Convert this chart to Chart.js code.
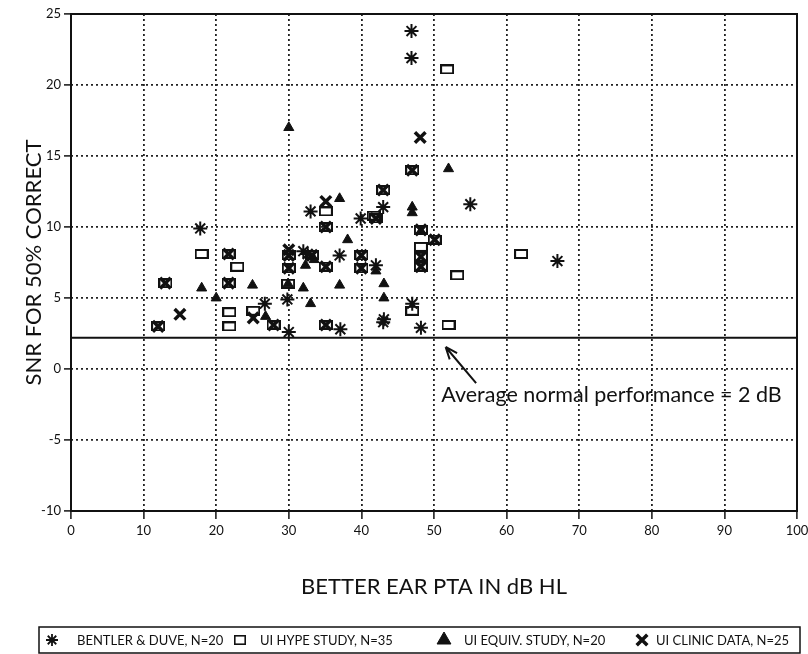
<!DOCTYPE html>
<html>
<head>
<meta charset="utf-8">
<script src="https://cdn.jsdelivr.net/npm/chart.js@4.4.1/dist/chart.umd.min.js"></script>
<style>
  html, body { margin: 0; padding: 0; background: #fff; }
  canvas { display: block; }
</style>
</head>
<body>
<canvas id="snrChart" width="808" height="654"></canvas>
<script>
// values (x = better ear PTA, y = SNR for 50% correct)
const bentlerX = [17.8, 26.7, 29.8, 30.0, 32.0, 32.6, 33.0, 37.0, 37.1, 39.9, 42.0, 43.0, 43.0, 43.1, 46.9, 46.9, 47.0, 48.2, 55.0, 67.0];
const bentlerY = [9.9, 4.6, 4.9, 2.6, 8.3, 8.1, 11.1, 8.0, 2.8, 10.6, 7.3, 11.4, 3.3, 3.5, 23.8, 21.9, 4.6, 2.9, 11.6, 7.6];

const hypeX = [12.0, 13.0, 18.0, 21.7, 21.7, 21.8, 21.8, 22.9, 25.1, 27.9, 29.9, 30.0, 30.0, 33.2, 35.1, 35.1, 35.1, 35.1,
               40.0, 40.0, 41.7, 42.0, 43.0, 47.0, 47.0, 48.2, 48.2, 48.2, 48.2, 50.1, 51.8, 52.0, 53.2, 62.0];
const hypeY = [3.0, 6.05, 8.1, 8.1, 6.05, 4.0, 3.0, 7.2, 4.1, 3.1, 6.0, 8.0, 7.1, 8.0, 7.2, 11.1, 10.0, 3.1,
               8.0, 7.1, 10.8, 10.6, 12.6, 14.0, 4.1, 9.8, 8.6, 7.9, 7.2, 9.1, 21.1, 3.1, 6.6, 8.1];

const equivX = [18.0, 20.0, 25.0, 26.8, 29.9, 30.0, 32.0, 32.3, 33.0, 33.5, 37.0, 37.0, 38.1, 42.0, 43.1, 43.1, 47.0, 47.0, 48.2, 52.0];
const equivY = [5.7, 5.0, 5.9, 3.7, 6.0, 17.0, 5.7, 7.3, 4.6, 7.7, 12.0, 5.9, 9.1, 6.9, 6.0, 5.0, 11.0, 11.4, 9.7, 14.1];

const clinicX = [12.0, 13.0, 15.0, 21.7, 21.7, 25.1, 27.9, 30.0, 30.0, 30.0, 33.2, 35.1, 35.1, 35.1, 35.1, 40.0, 40.0,
                 42.0, 43.0, 47.0, 48.1, 48.2, 48.2, 48.2, 50.1];
const clinicY = [3.0, 6.05, 3.85, 8.1, 6.05, 3.6, 3.1, 8.4, 8.0, 7.1, 8.0, 11.8, 10.0, 7.2, 3.1, 8.0, 7.1,
                 10.6, 12.6, 14.0, 16.3, 9.8, 7.9, 7.2, 9.1];

const seriesLabels = ['BENTLER & DUVE, N=20', 'UI HYPE STUDY, N=35', 'UI EQUIV. STUDY, N=20', 'UI CLINIC DATA, N=25'];

const normalLevel = 2.2;          // solid reference line
const noteText = 'Average normal performance = 2 dB';
const noteAt = [51.0, -2.3];      // text start (data units)
const arrowTail = [55.8, -1.0];
const arrowHead = [51.6, 1.55];

const ink = '#111';
const titleFont = { family: 'Lato', size: 22 };
const tickFont = { family: 'Lato', size: 13 };

function pts(xs, ys) {
  return xs.map((x, i) => ({ x: x, y: ys[i] }));
}

// open rectangle marker used by the hype study points
function makeBox(w, h, lw) {
  const c = document.createElement('canvas');
  c.width = w; c.height = h;
  const g = c.getContext('2d');
  g.strokeStyle = ink;
  g.lineWidth = lw;
  g.strokeRect(lw / 2, lw / 2, w - lw, h - lw);
  return c;
}
const boxMark = makeBox(14, 10, 2);
const boxLegend = makeBox(12, 10, 1.6);

const markers = [
  { pointStyle: 'star', radius: 7, borderWidth: 2 },
  { pointStyle: boxMark, radius: 7, borderWidth: 0 },
  { pointStyle: 'triangle', radius: 5.8, borderWidth: 1 },
  { pointStyle: 'crossRot', radius: 7.5, borderWidth: 3.5 }
];
const legendMarkers = [
  { pointStyle: 'star', radius: 6, borderWidth: 1.8 },
  { pointStyle: boxLegend, radius: 6, borderWidth: 0 },
  { pointStyle: 'triangle', radius: 8, borderWidth: 1 },
  { pointStyle: 'crossRot', radius: 7.5, borderWidth: 3.5 }
];

function scatterSet(i, xs, ys) {
  return {
    label: seriesLabels[i],
    data: pts(xs, ys),
    pointStyle: markers[i].pointStyle,
    pointRadius: markers[i].radius,
    pointBorderWidth: markers[i].borderWidth,
    borderColor: ink,
    backgroundColor: ink
  };
}

const hideEdges = (lo, hi) => c => (c.tick && (c.tick.value === lo || c.tick.value === hi)) ? 'rgba(0,0,0,0)' : '#222';

const framePlugin = {
  id: 'frame',
  beforeDraw(chart) {
    const g = chart.ctx;
    g.save();
    g.fillStyle = '#fff';
    g.fillRect(0, 0, chart.width, chart.height);
    g.restore();
  },
  beforeDatasetsDraw(chart) {
    const a = chart.chartArea, g = chart.ctx;
    g.save();
    g.strokeStyle = ink;
    g.lineWidth = 2;
    g.strokeRect(a.left, a.top, a.right - a.left, a.bottom - a.top);
    g.restore();
  }
};

const notePlugin = {
  id: 'note',
  afterDraw(chart) {
    const g = chart.ctx, sx = chart.scales.x, sy = chart.scales.y;
    const tx = sx.getPixelForValue(arrowTail[0]), ty = sy.getPixelForValue(arrowTail[1]);
    const hx = sx.getPixelForValue(arrowHead[0]), hy = sy.getPixelForValue(arrowHead[1]);
    g.save();
    g.strokeStyle = ink;
    g.lineWidth = 2;
    g.beginPath();
    g.moveTo(tx, ty);
    g.lineTo(hx, hy);
    const ang = Math.atan2(hy - ty, hx - tx);
    g.moveTo(hx, hy);
    g.lineTo(hx - 13 * Math.cos(ang - 0.38), hy - 13 * Math.sin(ang - 0.38));
    g.moveTo(hx, hy);
    g.lineTo(hx - 13 * Math.cos(ang + 0.38), hy - 13 * Math.sin(ang + 0.38));
    g.stroke();
    g.fillStyle = ink;
    g.font = '21.5px Lato';
    g.textBaseline = 'alphabetic';
    g.fillText(noteText, sx.getPixelForValue(noteAt[0]), sy.getPixelForValue(noteAt[1]));
    g.restore();
  }
};

// boxed legend strip under the x-axis title
const legendPlugin = {
  id: 'boxLegend',
  afterDraw(chart) {
    const g = chart.ctx;
    const top = 627, h = 26, left = 39, right = 800;
    const cy = top + h / 2 + 1;
    const itemX = [52, 240, 444, 642];
    const textGap = [25, 20, 20, 14];
    g.save();
    g.strokeStyle = ink;
    g.lineWidth = 1.5;
    g.strokeRect(left, top, right - left, h);
    g.font = '13px Lato';
    g.textBaseline = 'middle';
    seriesLabels.forEach((lab, i) => {
      g.fillStyle = ink;
      g.strokeStyle = ink;
      g.lineWidth = legendMarkers[i].borderWidth;
      Chart.helpers.drawPoint(g, { pointStyle: legendMarkers[i].pointStyle, rotation: 0, radius: legendMarkers[i].radius, borderWidth: legendMarkers[i].borderWidth }, itemX[i], cy - 1);
      g.fillText(lab, itemX[i] + textGap[i], cy);
    });
    g.restore();
  }
};

const ctx = document.getElementById('snrChart').getContext('2d');
const snrChart = new Chart(ctx, {
  type: 'scatter',
  data: {
    datasets: [
      scatterSet(0, bentlerX, bentlerY),
      scatterSet(1, hypeX, hypeY),
      scatterSet(2, equivX, equivY),
      scatterSet(3, clinicX, clinicY),
      {
        type: 'line',
        label: 'normal',
        data: [{ x: 0, y: normalLevel }, { x: 100, y: normalLevel }],
        borderColor: ink,
        borderWidth: 2,
        pointRadius: 0,
        fill: false
      }
    ]
  },
  options: {
    responsive: false,
    animation: false,
    devicePixelRatio: 1,
    layout: { padding: { top: 14, right: 8, bottom: 0, left: 0 } },
    plugins: { legend: { display: false }, tooltip: { enabled: false } },
    scales: {
      x: {
        type: 'linear', min: 0, max: 100,
        ticks: { stepSize: 10, color: ink, font: tickFont, padding: 4, maxRotation: 0 },
        grid: { color: hideEdges(0, 100), lineWidth: 1.8, tickLength: 8, tickColor: ink, tickWidth: 1.5, tickBorderDash: [] },
        border: { display: false, dash: [2, 3] },
        title: { display: true, text: 'BETTER EAR PTA IN dB HL', color: ink, font: titleFont, padding: { top: 0, bottom: 54 } },
        afterFit: s => { s.height = 143; s.paddingLeft = 0; s.paddingRight = 0; }
      },
      y: {
        type: 'linear', min: -10, max: 25,
        ticks: { stepSize: 5, color: ink, font: tickFont, padding: 3 },
        grid: { color: hideEdges(-10, 25), lineWidth: 1.8, tickLength: 7, tickColor: ink, tickWidth: 1.5, tickBorderDash: [] },
        border: { display: false, dash: [2, 3] },
        title: { display: true, text: 'SNR FOR 50% CORRECT', color: ink, font: titleFont, padding: { top: 21, bottom: 0 } },
        afterFit: s => { s.width = 71; s.paddingTop = 0; s.paddingBottom = 0; }
      }
    }
  },
  plugins: [framePlugin, notePlugin, legendPlugin]
});
</script>
</body>
</html>
